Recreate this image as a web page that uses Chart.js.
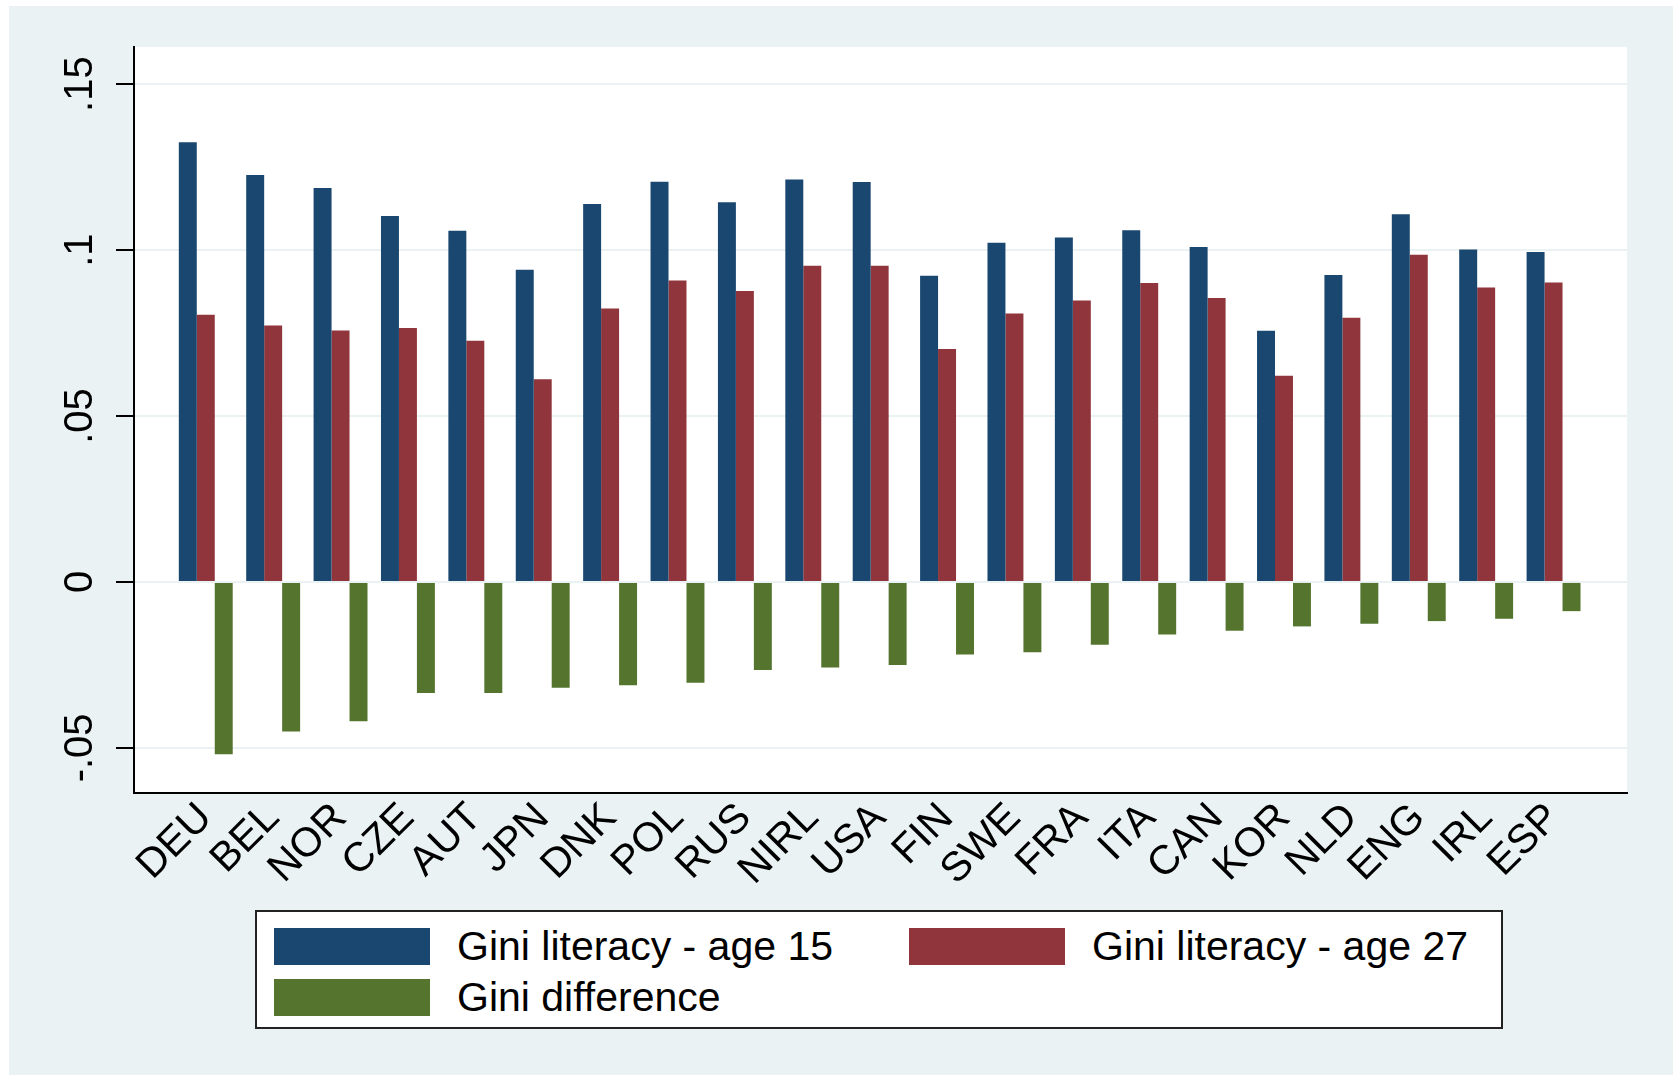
<!DOCTYPE html>
<html>
<head>
<meta charset="utf-8">
<script src="https://cdn.jsdelivr.net/npm/chart.js@4.4.1/dist/chart.umd.min.js"></script>
<style>
  html, body { margin: 0; padding: 0; background: #ffffff; }
  #wrap { position: relative; width: 1677px; height: 1075px; }
  #gini-chart { position: absolute; left: 0; top: 0; }
  #legend {
    position: absolute; left: 255px; top: 910px; width: 1248px; height: 119px;
    box-sizing: border-box; border: 2px solid #222; background: #fff;
    font-family: "Liberation Sans", Arial, sans-serif; font-size: 41px; color: #000;
  }
  .lg-item { position: absolute; display: flex; align-items: center; height: 37px; }
  .lg-swatch { width: 156px; height: 37px; margin-right: 27px; }
</style>
</head>
<body>
<div id="wrap">
  <canvas id="gini-chart" width="1677" height="1075"></canvas>
  <div id="legend"></div>
</div>
<script>
const countries = ['DEU', 'BEL', 'NOR', 'CZE', 'AUT', 'JPN', 'DNK', 'POL', 'RUS', 'NIRL', 'USA',
                   'FIN', 'SWE', 'FRA', 'ITA', 'CAN', 'KOR', 'NLD', 'ENG', 'IRL', 'ESP'];
const giniAge15 = [0.1325, 0.1226, 0.1187, 0.1103, 0.1058, 0.0941, 0.1139, 0.1206, 0.1144, 0.1213, 0.1205,
                   0.0923, 0.1022, 0.1038, 0.1060, 0.1009, 0.0757, 0.0925, 0.1108, 0.1002, 0.0994];
const giniAge27 = [0.0805, 0.0773, 0.0758, 0.0765, 0.0727, 0.0611, 0.0824, 0.0908, 0.0877, 0.0953, 0.0953,
                   0.0702, 0.0809, 0.0848, 0.0901, 0.0856, 0.0621, 0.0796, 0.0986, 0.0887, 0.0902];
const giniDiff = [-0.0519, -0.0451, -0.0420, -0.0335, -0.0335, -0.0319, -0.0311, -0.0304, -0.0265, -0.0258, -0.0250,
                  -0.0219, -0.0212, -0.0189, -0.0158, -0.0147, -0.0134, -0.0126, -0.0118, -0.0111, -0.0088];
const seriesLabels = ['Gini literacy - age 15', 'Gini literacy - age 27', 'Gini difference'];
const seriesColors = ['#1a476f', '#90353b', '#55752f'];
const yTickValues = [-0.05, 0, 0.05, 0.1, 0.15];
const yTickLabels = ['-.05', '0', '.05', '.1', '.15'];

const FONT = '"Liberation Sans", Arial, sans-serif';

// stata-like backgrounds: outer panel + white plot region
const backdrop = {
    id: 'backdrop',
    beforeDraw(chart) {
        const ctx = chart.ctx;
        const a = chart.chartArea;
        ctx.save();
        ctx.fillStyle = '#ffffff';
        ctx.fillRect(0, 0, chart.width, chart.height);
        ctx.fillStyle = '#eaf2f3';
        ctx.fillRect(9, 6, 1664, 1069);
        ctx.fillStyle = '#ffffff';
        ctx.fillRect(a.left, a.top, a.right - a.left, a.bottom - a.top);
        ctx.restore();
    }
};

function toPoints(values) {
    return values.map((v, i) => ({ x: i, y: v }));
}

const ctx = document.getElementById('gini-chart').getContext('2d');
const chart = new Chart(ctx, {
    type: 'bar',
    data: {
        datasets: [giniAge15, giniAge27, giniDiff].map((vals, i) => ({
            label: seriesLabels[i],
            data: toPoints(vals),
            backgroundColor: seriesColors[i],
            borderWidth: 0,
            categoryPercentage: 0.8,
            barPercentage: 1.0
        }))
    },
    options: {
        responsive: false,
        animation: false,
        layout: { padding: { left: 0, right: 50, top: 47, bottom: 162 } },
        plugins: {
            legend: { display: false },
            tooltip: { enabled: false }
        },
        scales: {
            x: {
                type: 'linear',
                min: -1.065,
                max: 21.09,
                bounds: 'data',
                offset: false,
                afterBuildTicks: (s) => { s.ticks = countries.map((c, i) => ({ value: i })); },
                afterFit: (s) => { s.height = 120; },
                grid: { display: false, drawTicks: false },
                border: { display: true, color: '#000', width: 2 },
                ticks: {
                    autoSkip: false,
                    minRotation: 45,
                    maxRotation: 45,
                    padding: 1,
                    color: '#000',
                    font: { family: FONT, size: 41 },
                    callback: (v) => countries[v]
                }
            },
            y: {
                min: -0.0636,
                max: 0.1612,
                bounds: 'data',
                afterBuildTicks: (s) => { s.ticks = yTickValues.map(v => ({ value: v })); },
                afterFit: (s) => { s.width = 134; },
                grid: { color: '#eaf2f3', lineWidth: 2, tickColor: '#000', tickLength: 18, drawTicks: true },
                border: { display: true, color: '#000', width: 2 },
                ticks: {
                    minRotation: 90,
                    maxRotation: 90,
                    crossAlign: 'center',
                    padding: 1,
                    color: '#000',
                    font: { family: FONT, size: 40 },
                    callback: (v) => yTickLabels[yTickValues.indexOf(v)]
                }
            }
        }
    },
    plugins: [backdrop]
});

// legend box, two columns like the original
const legend = document.getElementById('legend');
const slots = [[17, 16], [652, 16], [17, 67]];
chart.data.datasets.forEach((ds, i) => {
    const item = document.createElement('div');
    item.className = 'lg-item';
    item.style.left = slots[i][0] + 'px';
    item.style.top = slots[i][1] + 'px';
    const sw = document.createElement('span');
    sw.className = 'lg-swatch';
    sw.style.background = ds.backgroundColor;
    const tx = document.createElement('span');
    tx.textContent = ds.label;
    item.appendChild(sw);
    item.appendChild(tx);
    legend.appendChild(item);
});
</script>
</body>
</html>
